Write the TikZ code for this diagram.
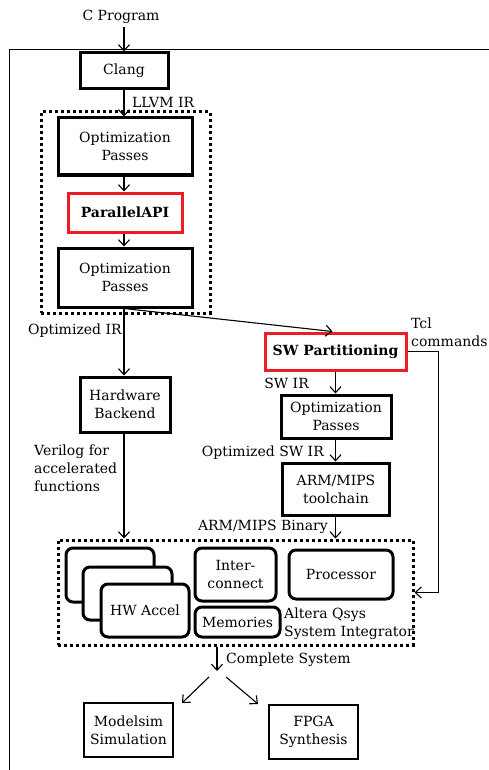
\documentclass[tikz,border=0pt]{standalone}
\usepackage{fontspec}
\setmainfont{DejaVu Serif}
\usetikzlibrary{arrows.meta,positioning}

\newcommand{\figfont}{\fontsize{14}{18}\selectfont}

\tikzset{
  box/.style={draw, line width=3pt, align=center, inner sep=0pt, fill=white},
  redbox/.style={box, draw={rgb,255:red,235;green,28;blue,36}, font=\figfont\bfseries},
  rbox/.style={box, rounded corners=7pt},
  dotbox/.style={draw, line width=3pt, dash pattern=on 3pt off 3pt, inner sep=0pt},
  lbl/.style={inner sep=0pt, align=left},
  arr/.style={line width=1.1pt, -{Straight Barb[length=6pt,width=11pt,line width=1.1pt]}},
  frame/.style={line width=1pt},
}

\begin{document}
\begin{tikzpicture}[x=1pt, y=-1pt, font=\figfont]
\useasboundingbox (0,0) rectangle (488,770);

% outer frame of the flow
\draw[frame] (9,780) -- (9,50) -- (500,50);

% front end
\node[lbl] (cprog) at (121,17) {C Program};
\coordinate (cin) at (124,27);
\node[box, minimum width=88pt, minimum height=36pt] (clang) at (124,71) {Clang};

% LLVM pass group
\node[dotbox, minimum width=169pt, minimum height=201pt] (llvm) at (125.5,212.5) {};
\node[box, minimum width=134pt, minimum height=57pt] (opt1) at (125,146.5) {Optimization\\Passes};
\node[redbox, minimum width=114pt, minimum height=39pt] (papi) at (125,212.5) {ParallelAPI};
\node[box, minimum width=134pt, minimum height=59pt] (opt2) at (125,277.5) {Optimization\\Passes};

% hardware side
\node[box, minimum width=90pt, minimum height=55pt] (hwb) at (125,404.5) {Hardware\\Backend};

% software side
\node[redbox, minimum width=141pt, minimum height=37pt] (swp) at (335.5,351.5) {SW Partitioning};
\node[box, minimum width=110pt, minimum height=43pt] (opt3) at (336,416.5) {Optimization\\Passes};
\node[box, minimum width=107pt, minimum height=52pt] (arm) at (336,489) {ARM/MIPS\\toolchain};

% system integrator
\node[dotbox, minimum width=355pt, minimum height=105pt] (sys) at (235.5,592.5) {};
\node[rbox, minimum width=88pt, minimum height=54pt] (acc3) at (110,575) {};
\node[rbox, minimum width=89pt, minimum height=53pt] (acc2) at (127.5,593.5) {};
\node[rbox, minimum width=88pt, minimum height=53pt] (acc1) at (145,610.5) {HW Accel};
\node[rbox, minimum width=81pt, minimum height=53pt] (ic) at (235.5,574.5) {Inter-\\connect};
\node[rbox, minimum width=85pt, minimum height=30pt] (mem) at (237.5,622) {Memories};
\node[rbox, minimum width=104pt, minimum height=49pt] (proc) at (341,574.5) {Processor};
\node[lbl, anchor=west] (qsys) at (284,623.5) {Altera Qsys\\System Integrator};

% outputs
\coordinate (split) at (217,671);
\coordinate (lsrc) at (209,677);
\coordinate (rsrc) at (226,677);
\coordinate (ltip) at (182,703);
\coordinate (rtip) at (258,704);
\node[box, line width=2.6pt, minimum width=89pt, minimum height=54pt] (sim) at (128.5,730) {Modelsim\\Simulation};
\node[box, line width=2.6pt, minimum width=89pt, minimum height=54pt] (fpga) at (313.5,732) {FPGA\\Synthesis};

% connectors
\draw[arr] (cin) -- (clang.north -| cin);
\draw[arr] (clang.south -| cin) -- (opt1.north -| cin);
\draw[arr] (opt1.south -| cin) -- (papi.north -| cin);
\draw[arr] (papi.south -| cin) -- (opt2.north -| cin);
\draw[arr] (opt2.south -| cin) -- (hwb.north -| cin);
\draw[arr] (opt2.south -| cin) -- ([xshift=-3pt]swp.north);
\draw[arr] (hwb.south -| cin) -- (sys.north -| cin);
\draw[arr] (swp.south) -- (opt3.north -| swp.south);
\draw[arr] (opt3.south -| swp.south) -- (arm.north -| swp.south);
\draw[arr] (arm.south -| swp.south) -- (sys.north -| swp.south);
\draw[arr] (swp.east) -- ++(31,0) |- (sys.east);
\draw[arr] (sys.south -| split) -- (split);
\draw[arr] (lsrc) -- (ltip);
\draw[arr] (rsrc) -- (rtip);

% connector labels
\node[lbl, anchor=west] (l1) at (132,102) {LLVM IR};
\node[lbl, anchor=west] (l2) at (28,331) {Optimized IR};
\node[lbl, anchor=west] (l3) at (411,332.5) {Tcl\\commands};
\node[lbl, anchor=east] (l4) at (309,383) {SW IR};
\node[lbl, anchor=east] (l5) at (324,453) {Optimized SW IR};
\node[lbl, anchor=east] (l6) at (328,527) {ARM/MIPS Binary};
\node[lbl, anchor=west] (l7) at (34,468) {Verilog for\\accelerated\\functions};
\node[lbl, anchor=west] (l8) at (226,660) {Complete System};
\end{tikzpicture}
\end{document}
